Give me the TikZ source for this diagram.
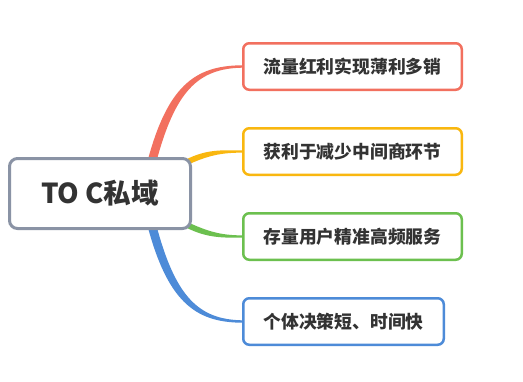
\documentclass[tikz,border=0pt]{standalone}
\usepackage{fontspec}
\newfontfamily\cjk{Noto Sans CJK SC}
\usetikzlibrary{calc,backgrounds}
\definecolor{cred}{HTML}{F2705F}
\definecolor{corange}{HTML}{F9B70F}
\definecolor{cgreen}{HTML}{6CC04F}
\definecolor{cblue}{HTML}{4D8BD8}
\definecolor{cgray}{HTML}{8A93A5}
\definecolor{txt}{HTML}{333333}
\begin{document}
\begin{tikzpicture}[x=1pt,y=-1pt,
  leaf/.style={draw, line width=2.5pt, rounded corners=6pt, fill=white,
    minimum height=46.5pt, inner sep=0pt, text=txt,
    font=\cjk\bfseries\fontsize{17.8}{20}\selectfont},
  rootbox/.style={draw=cgray, line width=3pt, rounded corners=8pt, fill=white,
    minimum width=181pt, minimum height=70pt, inner sep=0pt, text=txt,
    font=\cjk\bfseries\fontsize{27.5}{30}\selectfont}]
\useasboundingbox (0,0) rectangle (523,381);
\node[rootbox] (root) at (100,193.5) {TO C私域};
\node[leaf, draw=cred, minimum width=218.5pt] (r1) at (352.5,66.5) {流量红利实现薄利多销};
\node[leaf, draw=corange, minimum width=218.5pt] (r2) at (352.5,151.5) {获利于减少中间商环节};
\node[leaf, draw=cgreen, minimum width=218.5pt] (r3) at (352.5,236.5) {存量用户精准高频服务};
\node[leaf, draw=cblue, minimum width=200.5pt] (r4) at (343.5,321.5) {个体决策短、时间快};
\begin{pgfonlayer}{background}
\fill[white] (0,0) rectangle (523,381);
\fill[cred] ($(root.north)+(47,6)$) .. controls ($(root.north)+(67,-70)$) and ($(r1.west)+(-48,-1)$) .. ($(r1.west)+(0,-1.2)$)
  -- ($(r1.west)+(0,1.2)$) .. controls ($(r1.west)+(-44,2)$) and ($(root.north)+(75,-66)$) .. ($(root.north)+(56,6)$) -- cycle;
\fill[cblue] ($(root.south)+(47,-6)$) .. controls ($(root.south)+(67,70)$) and ($(r4.west)+(-48,1)$) .. ($(r4.west)+(0,1.2)$)
  -- ($(r4.west)+(0,-1.2)$) .. controls ($(r4.west)+(-44,-2)$) and ($(root.south)+(75,66)$) .. ($(root.south)+(56,-6)$) -- cycle;
\fill[corange] ($(root.east)+(-6,-34)$) .. controls ($(root.east)+(14,-44)$) and ($(r2.west)+(-22,-1.4)$) .. ($(r2.west)+(0,-1.1)$)
  -- ($(r2.west)+(0,1.1)$) .. controls ($(r2.west)+(-22,1.3)$) and ($(root.east)+(16,-38)$) .. ($(root.east)+(-6,-28)$) -- cycle;
\fill[cgreen] ($(root.east)+(-6,34)$) .. controls ($(root.east)+(14,44)$) and ($(r3.west)+(-22,1.4)$) .. ($(r3.west)+(0,1.1)$)
  -- ($(r3.west)+(0,-1.1)$) .. controls ($(r3.west)+(-22,-1.3)$) and ($(root.east)+(16,38)$) .. ($(root.east)+(-6,28)$) -- cycle;
\end{pgfonlayer}
\end{tikzpicture}
\end{document}
